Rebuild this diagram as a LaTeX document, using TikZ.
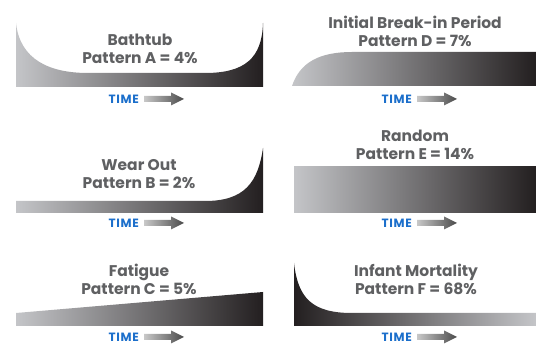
\documentclass[tikz,border=0pt]{standalone}
\usepackage{fontspec}
\setmainfont{Poppins}
\newfontfamily\timefont[LetterSpace=6]{Poppins}
\definecolor{lightg}{HTML}{C4C5C8}
\definecolor{darkg}{HTML}{231F20}
\definecolor{txtg}{HTML}{5F6062}
\definecolor{timeblue}{HTML}{1C6FCB}
\definecolor{arrL}{HTML}{C8C8C8}
\definecolor{arrR}{HTML}{4A4A4A}
\tikzset{
  title/.style={font=\bfseries\fontsize{15.5}{18}\selectfont, text=txtg, align=center, inner sep=0pt},
  timelbl/.style={font=\timefont\bfseries\fontsize{12}{14}\selectfont, text=timeblue, inner sep=0pt, anchor=east},
  bar/.style={left color=lightg, right color=darkg},
  barrev/.style={left color=darkg, right color=lightg},
}
\newcommand{\timearrow}[3]{% name, x, y
  \node[timelbl] (#1) at (#2,#3) {TIME};
  \shade[left color=arrL, right color=arrR]
    ([xshift=5pt]#1.east) ++(0,-3) -- ++(27,0) -- ++(0,-3.5) -- ++(13,6.5) -- ++(-13,6.5) -- ++(0,-3.5) -- ++(-27,0) -- cycle;
}
\begin{document}
\begin{tikzpicture}[x=1pt,y=-1pt]
\useasboundingbox (0,0) rectangle (536,344);
% A bathtub
\shade[bar] (16,23) .. controls (20,60) and (50,73) .. (88,73) -- (205,73) .. controls (245,73) and (262,58) .. (263,23) -- (263,87) -- (16,87) -- cycle;
\node[title] (ta) at (140,49) {Bathtub\\Pattern A = 4\%};
\timearrow{tia}{139}{99}
% D
\shade[bar] (292,86) .. controls (300,62) and (320,52) .. (352,52) -- (536,52) -- (536,86) -- cycle;
\node[title] (td) at (415,31) {Initial Break-in Period\\Pattern D = 7\%};
\timearrow{tid}{412}{99}
% B
\shade[bar] (16,201) -- (205,201) .. controls (245,201) and (258,182) .. (263,148) -- (263,213) -- (16,213) -- cycle;
\node[title] (tb) at (139,174) {Wear Out\\Pattern B = 2\%};
\timearrow{tib}{139}{223}
% E
\shade[bar] (294,167) rectangle (536,213);
\node[title] (te) at (415,145) {Random\\Pattern E = 14\%};
\timearrow{tie}{412}{223}
% C
\shade[bar] (16,313) -- (263,292) -- (263,326) -- (16,326) -- cycle;
\node[title] (tc) at (139,279) {Fatigue\\Pattern C = 5\%};
\timearrow{tic}{139}{337}
% F
\shade[barrev] (294,263) -- (294,326) -- (536,326) -- (536,313) -- (352,313) .. controls (312,313) and (298,298) .. (294,263) -- cycle;
\node[title] (tf) at (416,279) {Infant Mortality\\Pattern F = 68\%};
\timearrow{tif}{412}{337}
\end{tikzpicture}
\end{document}
